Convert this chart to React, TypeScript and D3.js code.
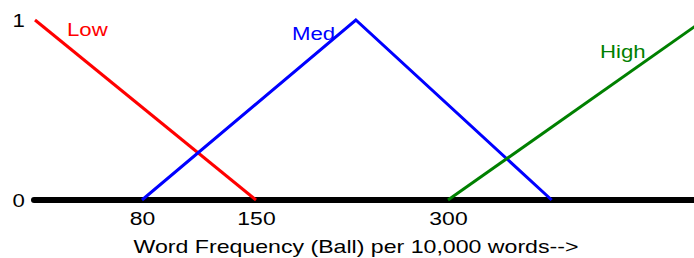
import React, { useEffect, useRef } from 'react';
import * as d3 from 'd3';

// membership functions, x in words per 10,000, y membership 0..1
const lowPoints: [number, number][] = [[0, 1], [150, 0]];
const medPoints: [number, number][] = [[80, 0], [228, 1], [381, 0]];
const highPoints: [number, number][] = [[300, 0], [500, 1]];

const seriesNames = ['Low', 'Med', 'High'];
const seriesColors = ['#ff0000', '#0000ff', '#008000'];
const xTicks = [80, 150, 300];
const yTicks = [0, 1];
const xTitle = 'Word Frequency (Ball) per 10,000 words-->';

const width = 694;
const height = 258;

export default function App() {
  const svgRef = useRef<SVGSVGElement>(null);

  useEffect(() => {
    if (!svgRef.current) return;
    const svg = d3.select(svgRef.current);
    svg.selectAll('*').remove();

    const font = '"Liberation Sans", Arial, sans-serif';

    // the original figure is not evenly spaced, so the x scale is piecewise
    const x = d3.scaleLinear()
      .domain([0, 80, 150, 300, 500])
      .range([35, 142, 256, 448, 704]);
    const y = d3.scaleLinear().domain([0, 1]).range([200, 20]);

    // baseline
    svg.append('line')
      .attr('x1', x(0) - 1)
      .attr('x2', width + 10)
      .attr('y1', y(0))
      .attr('y2', y(0))
      .attr('stroke', '#000')
      .attr('stroke-width', 6)
      .attr('stroke-linecap', 'round');

    const line = d3.line<[number, number]>()
      .x(d => x(d[0]))
      .y(d => y(d[1]));

    const series = [lowPoints, medPoints, highPoints];
    series.forEach((pts, i) => {
      svg.append('path')
        .datum(pts)
        .attr('fill', 'none')
        .attr('stroke', seriesColors[i])
        .attr('stroke-width', 3)
        .attr('stroke-linejoin', 'miter')
        .attr('d', line);
    });

    // series labels
    const labelPos = [[67, 36], [292, 40], [600, 58]];
    seriesNames.forEach((name, i) => {
      svg.append('text')
        .attr('transform', `translate(${labelPos[i][0]},${labelPos[i][1]}) scale(1.2,1)`)
        .attr('fill', seriesColors[i])
        .attr('font-family', font)
        .attr('font-size', 18.5)
        .text(name);
    });

    // x axis tick labels
    const xAxis = svg.append('g')
      .attr('transform', `translate(0,${y(0)})`)
      .call(d3.axisBottom(x).tickValues(xTicks).tickSize(0).tickPadding(0).tickFormat(d => `${d}`));
    xAxis.select('.domain').remove();
    xAxis.selectAll('text')
      .attr('y', 25)
      .attr('dy', 0)
      .attr('transform', 'scale(1.24,1)')
      .attr('fill', '#000')
      .attr('font-family', font)
      .attr('font-size', 18.5);

    // y axis tick labels
    const yAxis = svg.append('g')
      .attr('transform', 'translate(20,0)')
      .call(d3.axisLeft(y).tickValues(yTicks).tickSize(0).tickPadding(0).tickFormat(d => `${d}`));
    yAxis.select('.domain').remove();
    yAxis.selectAll('text')
      .attr('x', 4)
      .attr('dy', '0.36em')
      .attr('transform', 'scale(1.2,1)')
      .attr('fill', '#000')
      .attr('font-family', font)
      .attr('font-size', 18.5);

    // axis title, bottom is clipped by the frame in the original too
    svg.append('text')
      .attr('transform', `translate(356,253) scale(1.25,1)`)
      .attr('text-anchor', 'middle')
      .attr('fill', '#000')
      .attr('font-family', font)
      .attr('font-size', 18.5)
      .text(xTitle);
  }, []);

  return (
    <svg
      ref={svgRef}
      width={width}
      height={height}
      style={{ position: 'absolute', left: 0, top: 0, display: 'block', background: '#fff' }}
    />
  );
}
